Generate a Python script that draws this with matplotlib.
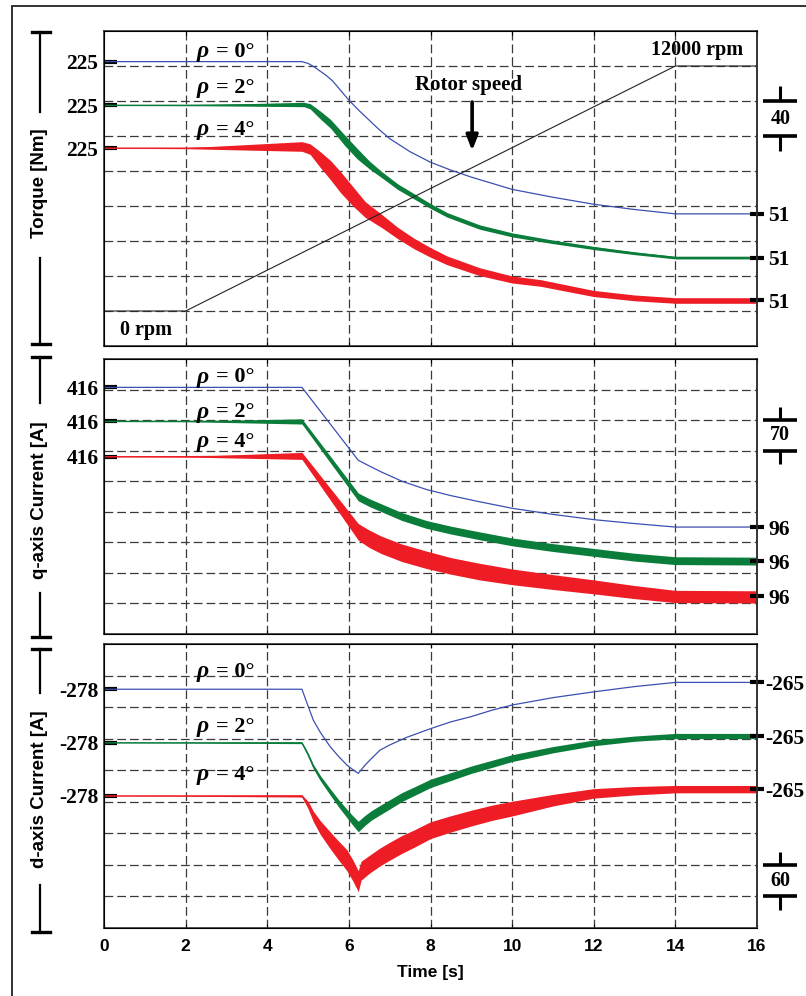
import numpy as np
import matplotlib.pyplot as plt
from matplotlib.transforms import offset_copy
from matplotlib.lines import Line2D
from matplotlib.patches import Rectangle
from matplotlib.font_manager import FontProperties

# ---- torque [Nm] ----
tq_t0 = [0, 0, 4.85, 5.0, 5.15, 5.3, 5.45, 5.6, 5.8, 6.0, 6.25, 6.5, 6.75, 7.0, 7.5, 8.0, 8.5, 9.0,
         9.5, 10.0, 11.0, 12.0, 13.0, 14.0, 16.0]
tq_v0 = [0, 225, 225, 223, 219, 214, 209, 203, 192, 181, 169, 158, 147, 137, 122, 110, 101, 93,
         86, 79, 70, 62, 56, 51, 51]

tq_t2 = [0, 0, 2, 4.9, 5.05, 5.3, 5.55, 5.9, 6.2, 6.5, 6.8, 7.2, 7.6, 8.0, 8.4, 9.2, 10.0, 11.0, 12.0, 13.0, 14.0, 16.0]
tq_v2 = [0, 225, 225, 226, 224, 214, 204, 185, 170, 157, 146, 132, 121, 110, 100, 86, 77, 69, 62, 56, 51, 51]
tq_r2 = [0, 0, 0.3, 2.5, 3, 4.5, 5, 6, 6, 4.5, 3.5, 3.2, 3, 2.8, 2.6, 2.5, 2.3, 2, 1.8, 1.6, 1.5, 1.5]

tq_t4 = [0, 0, 2, 4.85, 5.05, 5.3, 5.55, 5.8, 6.1, 6.4, 6.8, 7.2, 7.6, 8.0, 8.4, 9.2, 10.0, 10.7, 12.0, 13.0, 14.0, 16.0]
tq_v4 = [0, 225, 225, 227, 224, 212, 200, 186, 170, 155, 142, 128, 116, 106, 97, 84, 75, 71, 59, 54, 51, 51]
tq_r4 = [0, 0, 0.5, 5.5, 6, 9, 11, 12, 11, 9, 7.5, 6.5, 6, 5.5, 5, 4.5, 4, 3.8, 3.5, 3.3, 3.2, 3.2]

speed_t = [0, 2, 14, 16]
speed_rpm = [0, 0, 12000, 12000]

# ---- q-axis current [A] ----
iq_t0 = [0, 0, 4.85, 6.23, 6.5, 6.8, 7.3, 7.9, 8.5, 9.2, 10.0, 11.0, 12.0, 13.0, 14.0, 16.0]
iq_v0 = [0, 416, 416, 249, 236, 222, 201, 182, 168, 154, 139, 125, 113, 104, 96, 96]

iq_t2 = [0, 0, 2, 4.85, 6.23, 6.5, 6.8, 7.3, 7.9, 8.5, 9.2, 10.0, 11.0, 12.0, 13.0, 14.0, 16.0]
iq_v2 = [0, 416, 416, 416, 243, 230, 218, 198, 180, 167, 154, 140, 127, 116, 105, 97, 96]
iq_r2 = [0, 0, 0.5, 6, 9, 9, 9, 9, 9, 9, 9, 9, 9, 9, 9, 9, 9]

iq_t4 = [0, 0, 2, 4.85, 6.23, 6.5, 6.8, 7.3, 7.9, 8.5, 9.2, 10.0, 11.0, 12.0, 13.0, 14.0, 16.0]
iq_v4 = [0, 416, 416, 418, 244, 228, 214, 196, 180, 166, 153, 141, 129, 118, 106, 96, 95]
iq_r4 = [0, 0, 0.5, 8, 19, 20, 20, 20, 20, 19, 19, 18, 17, 16, 15, 14, 14]

# ---- d-axis current [A] ----
id_t0 = [0, 0, 4.85, 5.0, 5.13, 5.3, 5.54, 5.75, 5.95, 6.1, 6.23, 6.4, 6.55, 6.76, 7.0, 7.4, 8.0,
         8.5, 9.0, 9.5, 10.0, 11.0, 12.0, 13.0, 14.0, 16.0]
id_v0 = [0, -278, -278, -310, -337, -360, -387, -406, -422, -431, -438, -422, -410, -394, -384, -370, -353,
         -340, -330, -318, -308, -294, -283, -273, -265, -265]

id_t2 = [0, 0, 2, 4.85, 5.0, 5.13, 5.3, 5.54, 5.75, 5.95, 6.1, 6.23, 6.4, 6.55, 6.76, 7.0, 7.3, 7.6,
         8.0, 8.5, 9.0, 9.5, 10.0, 11.0, 12.0, 13.0, 14.0, 16.0]
id_v2 = [0, -278, -278, -278, -300, -323, -345, -371, -393, -412, -426, -437, -425, -416, -406, -395, -381, -370,
         -355, -342, -329, -318, -307, -291, -278, -270, -265, -265]
id_r2 = [0, 0, 0.3, 1.5, 3, 4, 5, 6, 7, 8, 9, 10, 9.5, 9, 9, 8.8, 8.5, 8.2,
         8, 7.5, 7, 6.8, 6.5, 6, 5.5, 5, 5, 5]

id_t4 = [0, 0, 2, 4.85, 5.0, 5.13, 5.3, 5.54, 5.75, 5.95, 6.1, 6.23, 6.3, 6.5, 6.76, 7.0, 7.3, 7.6,
         8.0, 8.5, 9.0, 9.5, 10.0, 11.0, 12.0, 13.0, 14.0, 16.0]
id_v4 = [0, -278, -278, -278, -295, -317, -338, -362, -382, -400, -420, -440, -420, -408, -394, -383, -370, -359,
         -343, -331, -320, -310, -302, -286, -273, -268, -265, -265]
id_r4 = [0, 0, 0.5, 2, 7, 10, 13, 16, 18, 20, 20, 20, 18, 17, 17, 17, 17, 16.5,
         16, 15.5, 15, 14.5, 14, 11, 9, 8, 7, 7]

# vertical shift of each trace (per panel: rho = 0, 2, 4 deg)
tq_off = [100, 50, 1]
iq_off = [149, 71, -10]
id_off = [732, 630, 529]

BLUE, GREEN, RED = '#3b50b0', '#0b7d3b', '#ee1c24'

W, H = 806, 996
fig = plt.figure(figsize=(W / 100, H / 100), dpi=100)


def fx(px):
    return px / W


def fy(py):
    return 1 - py / H


serif_b = FontProperties(family='Liberation Serif', weight='bold', size=15.5)
serif_bi = FontProperties(family='Liberation Serif', weight='bold', style='italic', size=17)
serif_rho = FontProperties(family='Liberation Serif', weight='bold', size=16)
sans_b = FontProperties(family='Liberation Sans', weight='bold', size=12.5)

# outer frame
fig.add_artist(Rectangle((fx(12), -0.05), 1.1, fy(6) + 0.05, transform=fig.transFigure,
                         fill=False, lw=1.3, ec='#222'))


def make_axes(top, bottom, div, left_vals, offs, right_vals, scale_lbl, scale_at, rpad=3):
    ax = fig.add_axes([fx(104), fy(bottom), fx(757) - fx(104), fy(top) - fy(bottom)])
    ax.set_xlim(0, 16)
    ax.set_ylim(0, 9 * div)
    for k in range(1, 9):
        ax.axhline(k * div, color='#3a3a3a', lw=0.9, ls=(0, (7, 3.2)), zorder=0.5)
    for t in range(2, 16, 2):
        ax.axvline(t, color='#3a3a3a', lw=0.9, ls=(0, (7, 3.2)), zorder=0.5)
    for s in ax.spines.values():
        s.set_color('#333')
        s.set_linewidth(1.2)
    ax.set_xticks(range(0, 17, 2))
    ax.tick_params(axis='x', direction='in', length=3, top=True, labelbottom=False)

    ax.set_yticks([v + o for v, o in zip(left_vals, offs)])
    ax.set_yticklabels([str(v) for v in left_vals], fontproperties=serif_b)
    ax.tick_params(axis='y', direction='in', length=9, width=3, pad=4, color='k')

    axr = ax.twinx()
    axr.set_ylim(0, 9 * div)
    axr.set_yticks([v + o for v, o in zip(right_vals, offs)])
    axr.set_yticklabels([str(v) for v in right_vals], fontproperties=serif_b)
    axr.tick_params(axis='y', direction='inout', length=10, width=3, pad=rpad, color='k')
    axr.spines['right'].set_color('#333')
    axr.spines['right'].set_linewidth(1.2)

    # scale bar: one grid division
    y_hi, y_lo = scale_at * div, (scale_at - 1) * div
    ext = 0.42 * div
    kw = dict(color='k', clip_on=False, solid_capstyle='butt')
    ax.plot([16.15, 16.98], [y_hi, y_hi], lw=2.6, **kw)
    ax.plot([16.15, 16.98], [y_lo, y_lo], lw=2.6, **kw)
    ax.plot([16.57, 16.57], [y_hi, y_hi + ext], lw=2.2, **kw)
    ax.plot([16.57, 16.57], [y_lo, y_lo - ext], lw=2.2, **kw)
    ax.text(16.57, (y_hi + y_lo) / 2, scale_lbl, ha='center', va='center',
            fontproperties=FontProperties(family='Liberation Serif', weight='bold', size=14.5))
    return ax


def trace(ax, t, v, off, color, rip=None, lw=1.0):
    y = np.asarray(v, float) + off
    if rip is not None:
        r = np.asarray(rip, float)
        ax.fill_between(t, y - r, y + r, color=color, lw=0, zorder=2)
    ax.plot(t, y, color=color, lw=lw, zorder=2)


def rho_labels(ax, ys):
    for y, ang in zip(ys, ['0', '2', '4']):
        ax.text(2.28, y, '\u03c1', ha='left', va='center', fontproperties=serif_bi, zorder=4)
        tr = offset_copy(ax.transData, fig=fig, x=19, y=0, units='dots')
        ax.text(2.28, y, '= ' + ang + '\u00b0', ha='left', va='center',
                fontproperties=serif_rho, transform=tr, zorder=4)


# ---------------- torque ----------------
ax1 = make_axes(31, 346, 40, [225, 225, 225], tq_off, [51, 51, 51], '40', 7)
trace(ax1, tq_t0, tq_v0, tq_off[0], BLUE, lw=0.9)
trace(ax1, tq_t2, tq_v2, tq_off[1], GREEN, tq_r2, lw=1.1)
trace(ax1, tq_t4, tq_v4, tq_off[2], RED, tq_r4, lw=1.1)
speed_y = [40 + r / 12000 * 280 for r in speed_rpm]
ax1.plot(speed_t, speed_y, color='#222', lw=0.8, zorder=3)
rho_labels(ax1, [336, 295, 247])
ax1.text(1.03, 18, '0 rpm', ha='center', va='center',
         fontproperties=FontProperties(family='Liberation Serif', weight='bold', size=14.5))
ax1.text(14.53, 338, '12000 rpm', ha='center', va='center',
         fontproperties=FontProperties(family='Liberation Serif', weight='bold', size=14.5))
ax1.text(8.94, 298, 'Rotor speed', ha='center', va='center',
         fontproperties=FontProperties(family='Liberation Serif', weight='bold', size=15))
ax1.annotate('', xy=(9.02, 220), xytext=(9.02, 282),
             arrowprops=dict(arrowstyle='-|>,head_length=0.9,head_width=0.35', lw=2.6, color='k'))

# ---------------- q-axis current ----------------
ax2 = make_axes(359, 634, 70, [416, 416, 416], iq_off, [96, 96, 96], '70', 7)
trace(ax2, iq_t0, iq_v0, iq_off[0], BLUE, lw=0.9)
trace(ax2, iq_t2, iq_v2, iq_off[1], GREEN, iq_r2, lw=1.1)
trace(ax2, iq_t4, iq_v4, iq_off[2], RED, iq_r4, lw=1.1)
rho_labels(ax2, [588, 508, 440])

# ---------------- d-axis current ----------------
ax3 = make_axes(644, 928, 60, [-278, -278, -278], id_off, [-265, -265, -265], '60', 2, rpad=0.8)
trace(ax3, id_t0, id_v0, id_off[0], BLUE, lw=0.9)
trace(ax3, id_t2, id_v2, id_off[1], GREEN, id_r2, lw=1.1)
trace(ax3, id_t4, id_v4, id_off[2], RED, id_r4, lw=1.1)
rho_labels(ax3, [487, 383, 291])
ax3.tick_params(axis='x', labelbottom=True, pad=8)
for lbl in ax3.get_xticklabels():
    lbl.set_fontproperties(sans_b)
ax3.set_xlabel('Time [s]', fontproperties=FontProperties(family='Liberation Sans', weight='bold', size=12.5),
               labelpad=8)

# ---------------- left labels with dimension brackets ----------------
label_fp = FontProperties(family='Liberation Sans', weight='bold', size=13.5)
brackets = [
    ('Torque [Nm]', 32, 112, 183.5, 258, 344),
    ('q-axis Current [A]', 357, 403, 500, 593, 637),
    ('d-axis Current [A]', 649, 693, 789, 885, 932),
]
for text, top, l1, mid, l2, bot in brackets:
    for a, b in [(top, l1), (l2, bot)]:
        fig.add_artist(Line2D([fx(40), fx(40)], [fy(a), fy(b)], color='k', lw=1.6,
                              transform=fig.transFigure))
    for yy in (top, bot):
        fig.add_artist(Line2D([fx(32), fx(50)], [fy(yy), fy(yy)], color='k', lw=2.4,
                              transform=fig.transFigure))
    fig.text(fx(40), fy(mid), text, rotation=90, ha='center', va='center', fontproperties=label_fp)

fig.savefig('out.png', dpi=100)
